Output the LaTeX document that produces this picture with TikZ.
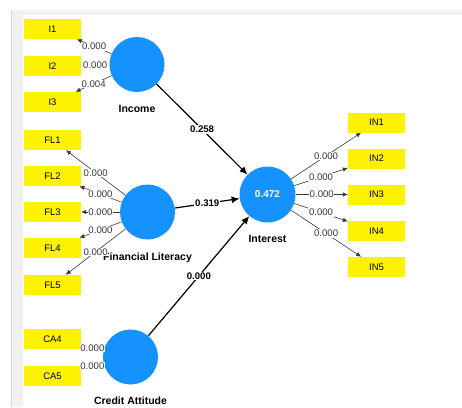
\documentclass[tikz,border=0pt]{standalone}
\usepackage{fontspec}
\setmainfont{Liberation Sans}
\usetikzlibrary{arrows.meta,positioning}

\definecolor{lvblue}{RGB}{22,146,255}
\definecolor{panelgray}{RGB}{241,241,241}
\definecolor{framegray}{RGB}{214,214,214}
\definecolor{wtgray}{RGB}{55,55,55}

\tikzset{
  ind/.style={fill=yellow, minimum width=57pt, minimum height=20pt, inner sep=0pt, font=\fontsize{9.5}{10}\selectfont},
  lv/.style={circle, fill=lvblue, minimum size=55pt, inner sep=0pt, text=white, font=\bfseries\fontsize{10}{11}\selectfont},
  lvname/.style={inner sep=0pt, font=\bfseries\fontsize{10.5}{12}\selectfont},
  outer/.style={draw=wtgray, line width=.6pt, -{Latex[length=5pt,width=4.5pt]}},
  inner/.style={line width=1.2pt, -{Latex[length=8pt,width=7pt]}},
  wt/.style={midway, fill=white, inner sep=.7pt, text=wtgray, font=\fontsize{9.6}{10}\selectfont},
  coef/.style={midway, fill=white, inner sep=.8pt, font=\bfseries\fontsize{9.6}{11}\selectfont}
}

\begin{document}
\begin{tikzpicture}[x=1pt, y=-1pt]
\useasboundingbox (0,0) rectangle (462,407);

\fill[panelgray] (11,10) rectangle (462,15);
\fill[panelgray] (11,10) rectangle (23,407);
\draw[framegray] (11,10) -- (11,407);

% indicators left
\node[ind] (i1) at (52.5,29) {I1};
\node[ind] (i2) at (52.5,66) {I2};
\node[ind] (i3) at (52.5,102) {I3};

\node[ind] (fl1) at (52.5,140) {FL1};
\node[ind] (fl2) at (52.5,176) {FL2};
\node[ind] (fl3) at (52.5,212) {FL3};
\node[ind] (fl4) at (52.5,248) {FL4};
\node[ind] (fl5) at (52.5,285) {FL5};

\node[ind] (ca4) at (52.5,339) {CA4};
\node[ind] (ca5) at (52.5,376) {CA5};

% indicators right
\node[ind] (in1) at (376.5,122.5) {IN1};
\node[ind] (in2) at (376.5,158.5) {IN2};
\node[ind] (in3) at (376.5,194.5) {IN3};
\node[ind] (in4) at (376.5,231) {IN4};
\node[ind] (in5) at (376.5,267) {IN5};

% constructs
\node[lv] (inc) at (137,64.5) {};
\node[lv] (fl) at (147.5,212) {};
\node[lv] (ca) at (130.5,357) {};
\node[lv, minimum size=56pt] (int) at (267.5,194.5) {0.472};

\node[lvname, below=13pt of inc] (incname) {Income};
\node[lvname, below=13pt of fl] (flname) {Financial Literacy};
\node[lvname, below=12pt of ca] (caname) {Credit Attitude};
\node[lvname, below=12.5pt of int] (intname) {Interest};

% outer model
\draw[outer] (inc) -- node[wt]{0.000} (i1);
\draw[outer] (inc) -- node[wt, inner xsep=1.5pt]{0.000} (i2);
\draw[outer] (inc) -- node[wt]{0.004} (i3);

\draw[outer] (fl) -- node[wt]{0.000} (fl1);
\draw[outer] (fl) -- node[wt]{0.000} (fl2);
\draw[outer] (fl) -- node[wt]{0.000} (fl3);
\draw[outer] (fl) -- node[wt]{0.000} (fl4);
\draw[outer] (fl) -- node[wt]{0.000} (fl5);

\draw[outer] (ca) -- node[wt]{0.000} (ca4);
\draw[outer] (ca) -- node[wt]{0.000} (ca5);

\draw[outer] (int) -- node[wt]{0.000} (in1);
\draw[outer] (int) -- node[wt]{0.000} (in2);
\draw[outer] (int) -- node[wt]{0.000} (in3);
\draw[outer] (int) -- node[wt]{0.000} (in4);
\draw[outer] (int) -- node[wt]{0.000} (in5);

% inner model
\draw[inner] (inc) -- node[coef]{0.258} (int);
\draw[inner] (fl) -- node[coef]{0.319} (int);
\draw[inner] (ca) -- node[coef]{0.000} (int);
\end{tikzpicture}
\end{document}
